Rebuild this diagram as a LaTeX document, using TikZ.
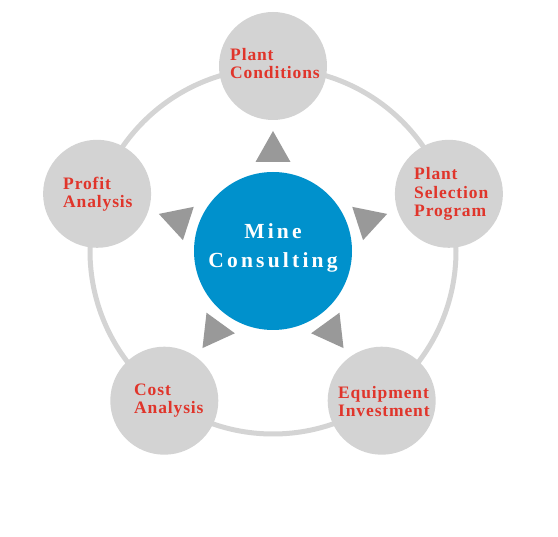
\documentclass[tikz,border=0pt]{standalone}
\usepackage{fontspec}
\setmainfont{Liberation Serif}
\newfontfamily\lblfont[LetterSpace=5]{Liberation Serif}
\newfontfamily\midfont[LetterSpace=15]{Liberation Serif}
\definecolor{ringgray}{HTML}{D4D4D4}
\definecolor{circgray}{HTML}{D3D3D3}
\definecolor{trigray}{HTML}{999999}
\definecolor{mineblue}{HTML}{0091CC}
\definecolor{lblred}{HTML}{E0352B}
\begin{document}
\begin{tikzpicture}[x=1pt,y=1pt,
  outer/.style={circle,fill=circgray,inner sep=0,minimum size=108pt},
  lbl/.style={anchor=base west,inner sep=0,align=left,text=lblred,
    font=\lblfont\bfseries\fontsize{17.5}{18.5}\selectfont},
  tri/.style={fill=trigray}]
\useasboundingbox (0,0) rectangle (558,-537);
\fill[white] (0,0) rectangle (558,-537);
\coordinate (c) at (273,-251);
% ring
\draw[ringgray,line width=5pt] (c) circle[radius=183];
% outer circles
\node[outer] (pc) at (273,-66) {};
\node[outer] (ps) at (448.9,-193.8) {};
\node[outer] (ei) at (381.7,-400.7) {};
\node[outer] (ca) at (164.3,-400.7) {};
\node[outer] (pa) at (97.1,-193.8) {};
% center
\node[circle,fill=mineblue,inner sep=0,minimum size=158pt] (mc) at (c) {};
\node[anchor=base,inner sep=0,text=white,font=\midfont\bfseries\fontsize{21.5}{29}\selectfont] (mct) at (273,-239) {Mine};
\node[anchor=base,inner sep=0,text=white,font=\midfont\bfseries\fontsize{21.5}{29}\selectfont] (mct2) at (273,-268) {Consulting};
% triangles
\foreach \a in {90,18,-54,-126,162}{
  \begin{scope}[shift={(c)},rotate=\a]
    \fill[tri] (120,0) -- (89,17.5) -- (89,-17.5) -- cycle;
  \end{scope}
}
% labels (anchor is baseline of last line)
\node[lbl] (pct) at (230,-79) {Plant\\Conditions};
\node[lbl] (pst) at (414,-217) {Plant\\Selection\\Program};
\node[lbl] (eit) at (338,-417) {Equipment\\Investment};
\node[lbl] (cat) at (134,-414) {Cost\\Analysis};
\node[lbl] (pat) at (63,-208) {Profit\\Analysis};
\end{tikzpicture}
\end{document}
